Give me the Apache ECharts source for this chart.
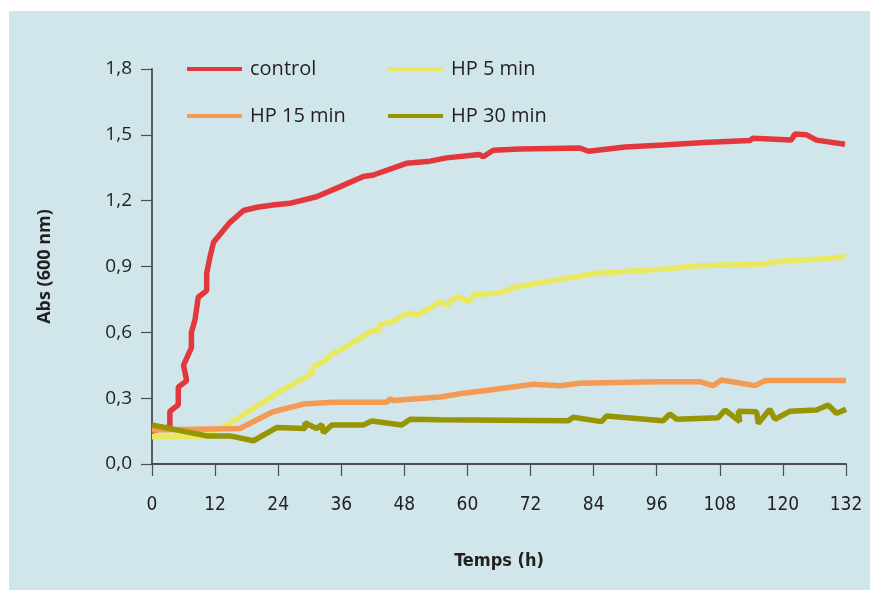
<!DOCTYPE html>
<html>
<head>
<meta charset="utf-8">
<script src="https://cdn.jsdelivr.net/npm/echarts@6/dist/echarts.min.js"></script>
<style>
html, body { margin: 0; padding: 0; background: #fff; }
#main { width: 873px; height: 592px; }
</style>
</head>
<body>
<div id="main"></div>
<script>
// [temps (h), absorbance]
var control = [[0,0.15],[3.4,0.17],[3.4,0.24],[5,0.27],[5,0.35],[6.6,0.38],[6,0.45],[7.5,0.53],[7.5,0.60],[8.2,0.66],[8.8,0.76],[10.4,0.79],[10.4,0.87],[11,0.94],[11.7,1.01],[14.8,1.10],[17.4,1.155],[20,1.17],[23,1.18],[26.2,1.188],[31.3,1.218],[35.8,1.264],[40.2,1.31],[42.1,1.317],[48.4,1.37],[52.9,1.38],[56,1.395],[60,1.405],[62.3,1.41],[63,1.40],[64.9,1.43],[70,1.435],[81.4,1.44],[83,1.425],[90,1.445],[97.2,1.454],[105,1.465],[113.7,1.474],[114.3,1.484],[121.6,1.477],[122.3,1.504],[124.5,1.50],[126.4,1.476],[131.8,1.457]];
var hp5 = [[0,0.124],[9.5,0.124],[14.5,0.18],[16.7,0.215],[24.3,0.33],[28.8,0.39],[30.4,0.413],[30.7,0.443],[33.2,0.474],[33.9,0.497],[36.4,0.527],[42.1,0.61],[43,0.603],[43.4,0.634],[46.5,0.656],[48.4,0.687],[50.6,0.68],[52.9,0.71],[54.8,0.74],[56,0.725],[58,0.763],[60.2,0.74],[61.1,0.77],[66.2,0.78],[69.4,0.808],[76,0.835],[84.6,0.869],[97.9,0.889],[103,0.902],[116.3,0.911],[120,0.925],[126.4,0.933],[132,0.945]];
var hp15 = [[0,0.155],[16.7,0.162],[23,0.238],[28.8,0.273],[34.5,0.281],[44.6,0.281],[45.3,0.297],[45.9,0.289],[54.8,0.305],[59.2,0.322],[64.3,0.337],[72.5,0.363],[77.6,0.357],[81.4,0.368],[96,0.375],[104.2,0.375],[106.7,0.357],[108.3,0.383],[114.7,0.357],[116.6,0.38],[132,0.38]];
var hp30 = [[0,0.178],[10.4,0.128],[14.8,0.128],[19.3,0.106],[23.7,0.166],[29.1,0.162],[29.1,0.188],[31.3,0.162],[32.3,0.18],[32.6,0.143],[34.2,0.178],[40.2,0.178],[41.8,0.196],[47.5,0.178],[49.1,0.204],[54.8,0.202],[79.2,0.197],[80.1,0.213],[85.5,0.193],[86.5,0.219],[97.2,0.197],[98.5,0.228],[99.8,0.204],[107.7,0.211],[109,0.246],[111.8,0.193],[111.5,0.24],[115,0.238],[115.3,0.185],[117.5,0.249],[118.5,0.204],[121.3,0.24],[126.4,0.246],[128.6,0.269],[130.2,0.231],[132,0.249]];

var names = ['control', 'HP 5 min', 'HP 15 min', 'HP 30 min'];
var colors = ['#e3373e', '#e8e961', '#f59a52', '#969503'];
var seriesData = [control, hp5, hp15, hp30];

var txt = '#231f20';
var axisCol = '#4d4d4f';
var narrow = "'Liberation Sans Narrow', 'DejaVu Sans Condensed', sans-serif";

var myChart = echarts.init(document.getElementById('main'));

function legendAt(left, data) {
	return {
		left: left,
		top: 59,
		padding: 0,
		orient: 'vertical',
		data: data,
		icon: 'rect',
		itemWidth: 55,
		itemHeight: 4,
		itemGap: 27,
		textStyle: {
			color: txt,
			fontSize: 20,
			lineHeight: 20,
			fontFamily: "'Open Sans', sans-serif",
			padding: [0, 0, 0, 3]
		}
	};
}

var series = [];
for (var i = 0; i < names.length; i++) {
	series.push({
		name: names[i],
		type: 'line',
		data: seriesData[i],
		symbol: 'none',
		color: colors[i],
		lineStyle: { width: 5.5, color: colors[i] },
		animation: false
	});
}

option = {
	backgroundColor: '#ffffff',
	graphic: [{
		type: 'rect',
		z: -10,
		silent: true,
		shape: { x: 9, y: 11, width: 861, height: 579 },
		style: { fill: '#d0e6ea' }
	}],
	legend: [legendAt(187, ['control', 'HP 15 min']), legendAt(388, ['HP 5 min', 'HP 30 min'])],
	grid: { left: 152, right: 27, top: 69, bottom: 128 },
	xAxis: {
		type: 'value',
		min: 0,
		max: 132,
		interval: 12,
		name: 'Temps (h)',
		nameLocation: 'middle',
		nameGap: 88,
		nameTextStyle: { color: txt, fontSize: 18, fontWeight: 'bold', fontFamily: narrow },
		axisLine: { lineStyle: { color: axisCol, width: 1.8 } },
		axisTick: { show: true, inside: false, length: 12, lineStyle: { color: axisCol, width: 1.2 } },
		axisLabel: { color: txt, fontSize: 19, margin: 32, fontFamily: narrow },
		splitLine: { show: false }
	},
	yAxis: {
		type: 'value',
		min: 0,
		max: 1.8,
		interval: 0.3,
		name: 'Abs (600 nm)',
		nameLocation: 'middle',
		nameRotate: 90,
		nameGap: 98,
		nameTextStyle: { color: txt, fontSize: 18, fontWeight: 'bold', fontFamily: "'Open Sans', sans-serif" },
		axisLine: { show: true, lineStyle: { color: axisCol, width: 1.8 } },
		axisTick: { show: true, inside: false, length: 11, lineStyle: { color: axisCol, width: 1.2 } },
		axisLabel: {
			color: txt,
			fontSize: 19,
			margin: 20,
			fontFamily: "'Open Sans', sans-serif",
			formatter: function(v) { return v.toFixed(1).replace('.', ','); }
		},
		splitLine: { show: false }
	},
	series: series
};
myChart.setOption(option);
</script>
</body>
</html>
